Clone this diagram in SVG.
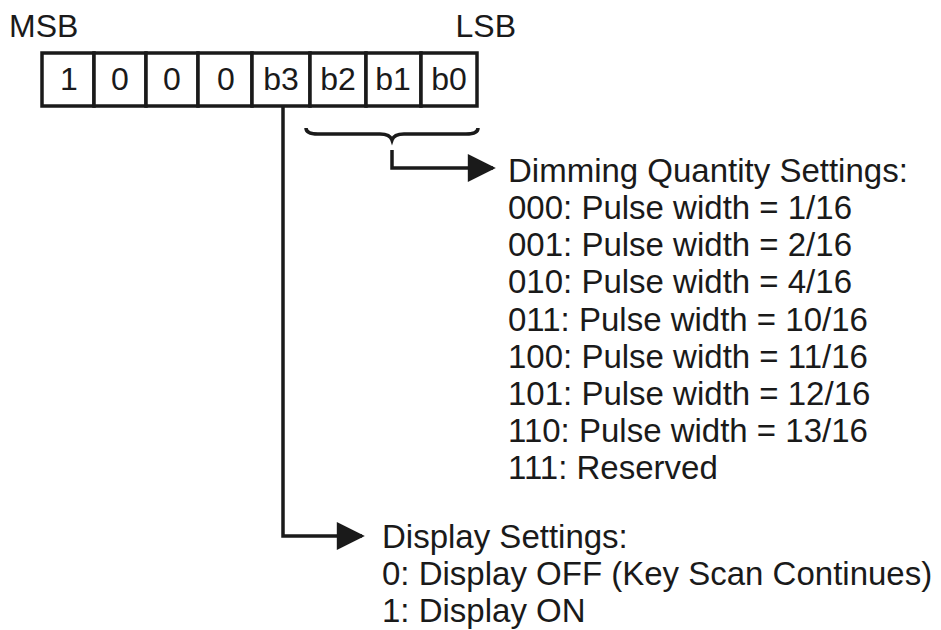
<svg xmlns="http://www.w3.org/2000/svg" width="941" height="630" viewBox="0 0 941 630">
<style>
text{font-family:"Liberation Sans",Arial,sans-serif;font-size:33px;fill:#1a1a1a}
.h{font-size:32px}
.c{text-anchor:middle;font-size:32px}
.cell{fill:#fff;stroke:#1a1a1a;stroke-width:3.5}
.ln{fill:none;stroke:#1a1a1a;stroke-width:3.5}
</style>
<defs>
<marker id="ah" viewBox="0 0 10 10" refX="9" refY="5" markerWidth="29" markerHeight="28" markerUnits="userSpaceOnUse" orient="auto">
<path d="M0,0 L10,5 L0,10 Z" fill="#1a1a1a"/>
</marker>
</defs>
<rect width="941" height="630" fill="#fff"/>
<text class="h" x="9" y="37">MSB</text>
<text class="h" x="516" y="37" text-anchor="end">LSB</text>
<g id="register">
<rect class="cell" x="42" y="53" width="52" height="53"/>
<rect class="cell" x="94" y="53" width="52" height="53"/>
<rect class="cell" x="146" y="53" width="52" height="53"/>
<rect class="cell" x="198" y="53" width="54" height="53"/>
<rect class="cell" x="252" y="53" width="58" height="53"/>
<rect class="cell" x="310" y="53" width="56" height="53"/>
<rect class="cell" x="366" y="53" width="55" height="53"/>
<rect class="cell" x="421" y="53" width="56" height="53"/>
<text class="c" x="69" y="90">1</text>
<text class="c" x="120" y="90">0</text>
<text class="c" x="172" y="90">0</text>
<text class="c" x="226" y="90">0</text>
<text class="c" x="281" y="90">b3</text>
<text class="c" x="338" y="90">b2</text>
<text class="c" x="393" y="90">b1</text>
<text class="c" x="449" y="90">b0</text>
</g>
<g id="connectors">
<path class="ln" d="M306,128 Q306,134 318,134 L380,134 Q390,134 392,140 Q394,134 404,134 L466,134 Q478,134 478,128" stroke-width="3"/>
<path d="M392,150 L392,168 L493,168" class="ln" marker-end="url(#ah)"/>
<path d="M283,106 L283,536 L362,536" class="ln" marker-end="url(#ah)"/>
</g>
<g id="dimming">
<text x="508" y="182">Dimming Quantity Settings:</text>
<text x="508" y="219">000: Pulse width = 1/16</text>
<text x="508" y="256">001: Pulse width = 2/16</text>
<text x="508" y="293">010: Pulse width = 4/16</text>
<text x="508" y="331">011: Pulse width = 10/16</text>
<text x="508" y="368">100: Pulse width = 11/16</text>
<text x="508" y="405">101: Pulse width = 12/16</text>
<text x="508" y="442">110: Pulse width = 13/16</text>
<text x="508" y="479">111: Reserved</text>
</g>
<g id="display">
<text x="382" y="548">Display Settings:</text>
<text x="382" y="585">0: Display OFF (Key Scan Continues)</text>
<text x="382" y="622">1: Display ON</text>
</g>
</svg>
